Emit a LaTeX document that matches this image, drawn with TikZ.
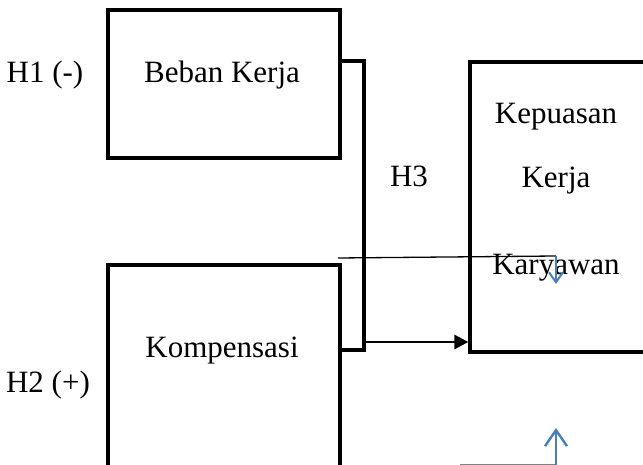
\documentclass[tikz,border=0pt]{standalone}
\usepackage{fontspec}
\setmainfont{Liberation Serif}
\usetikzlibrary{arrows.meta}
\begin{document}
\begin{tikzpicture}[x=1pt,y=-1pt,
  box/.style={draw=black,line width=3.3pt,minimum width=232pt,minimum height=148pt,inner sep=0pt},
  lbl/.style={font=\fontsize{31}{36}\selectfont,inner sep=0pt,anchor=base},
  thick line/.style={draw=black,line width=3.3pt},
  blue arrow/.style={draw={rgb,255:red,74;green,126;blue,187},line width=2pt},
  small barb/.style={-{Straight Barb[length=10pt,width=14pt,line width=2pt]}},
  big barb/.style={-{Straight Barb[length=16pt,width=22pt,line width=2.4pt]}}
]
\clip (0,0) rectangle (643,465);
\fill[white] (0,0) rectangle (643,465);
% boxes
\node[box] (bk) at (224,84) {};
\node[box,minimum height=230pt] (kp) at (224,380) {};
\node[box,minimum width=190pt,minimum height=290pt] (ks) at (565,207) {};
% texts
\node[lbl] (h1) at (45,83) {H1 (-)};
\node[lbl] (tbk) at (222,83) {Beban Kerja};
\node[lbl] (tkp) at (222,357) {Kompensasi};
\node[lbl] (h2) at (48,392) {H2 (+)};
\node[lbl] (h3) at (409,187) {H3};
\node[lbl] (t1) at (556,124) {Kepuasan};
\node[lbl] (t2) at (556,188) {Kerja};
\node[lbl] (t3) at (556,275) {Karyawan};
% bracket
\coordinate (bt) at (340,61);
\coordinate (bb) at (340,350);
\coordinate (ba) at (364,342);
\draw[thick line,line join=miter] (bt) -- (364,61) -- (364,350) -- (bb);
\draw[line width=2.8pt,-{Triangle[length=14pt,width=14pt]}] (ba) -- (ba -| ks.west);
% stray thin line and blue arrows
\coordinate (s1) at (338,258);
\coordinate (s2) at (556,256);
\coordinate (s3) at (556,284);
\draw[line width=1.3pt] (s1) -- (s2);
\draw[blue arrow,small barb] (s2) -- (s3);
\coordinate (g1) at (460,464);
\coordinate (g2) at (556,464);
\coordinate (g3) at (556,428);
\draw[line width=1pt,draw=gray] (g1) -- (g2);
\draw[blue arrow,big barb] (556,470) -- (g3);
\end{tikzpicture}
\end{document}
